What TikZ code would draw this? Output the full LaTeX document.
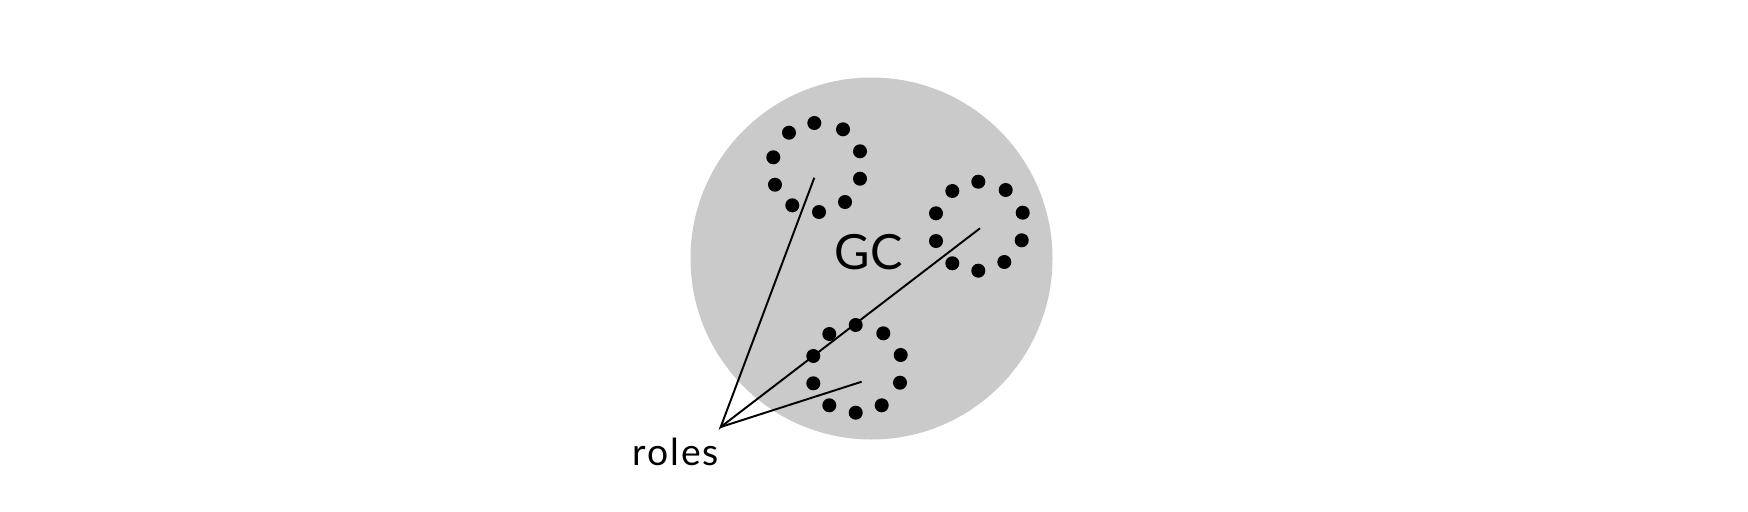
\documentclass[tikz,border=0pt]{standalone}
\usepackage{fontspec}
\setmainfont{Lato}
\newfontfamily\spacedfont[LetterSpace=5]{Lato}
\definecolor{discgray}{RGB}{202,202,202}
\begin{document}
\begin{tikzpicture}[x=0.01cm,y=-0.01cm,
  dot/.style={circle,fill=black,inner sep=0pt,minimum size=0.14cm},
  link/.style={draw=black,line width=0.55pt},
  lbl/.style={inner sep=0pt,anchor=base west}]
\useasboundingbox (0,0) rectangle (1748,512);
\fill[discgray] (871.5,258.5) circle[radius=181];
% top cluster
\foreach \x/\y [count=\i] in {814.3/123, 843/129.3, 860/151.3, 860/178.7, 845/202,
  819/212, 792.3/205.3, 775/184.7, 773.3/157.3, 789/132.7}
  \node[dot] (t\i) at (\x,\y) {};
% right cluster
\foreach \x/\y [count=\i] in {978.3/181.7, 1005.7/190, 1022.7/212.7, 1021.7/240.3, 1004.3/262,
  978.3/270.7, 952.3/263.3, 936/241, 936/213.3, 952.3/191}
  \node[dot] (r\i) at (\x,\y) {};
% bottom cluster
\foreach \x/\y [count=\i] in {855.7/325, 883.3/333.3, 900.7/355, 900/382.7, 881.7/405.3,
  855.7/412.7, 829.3/405.3, 813.3/383.3, 813.3/356, 829.3/334}
  \node[dot] (b\i) at (\x,\y) {};
\node[lbl] (gc) at (834,269.5) {\fontsize{13.8}{16}\selectfont GC};
\node[lbl] (roles) at (632,465) {\spacedfont\fontsize{10.6}{13}\selectfont roles};
\coordinate (apex) at (720.7,427);
\coordinate (e1) at (814.3,177.7);
\coordinate (e2) at (980,228.3);
\coordinate (e3) at (861.7,381.7);
\draw[link] (e1) -- (apex) -- (e2);
\draw[link] (apex) -- (e3);
\end{tikzpicture}
\end{document}
